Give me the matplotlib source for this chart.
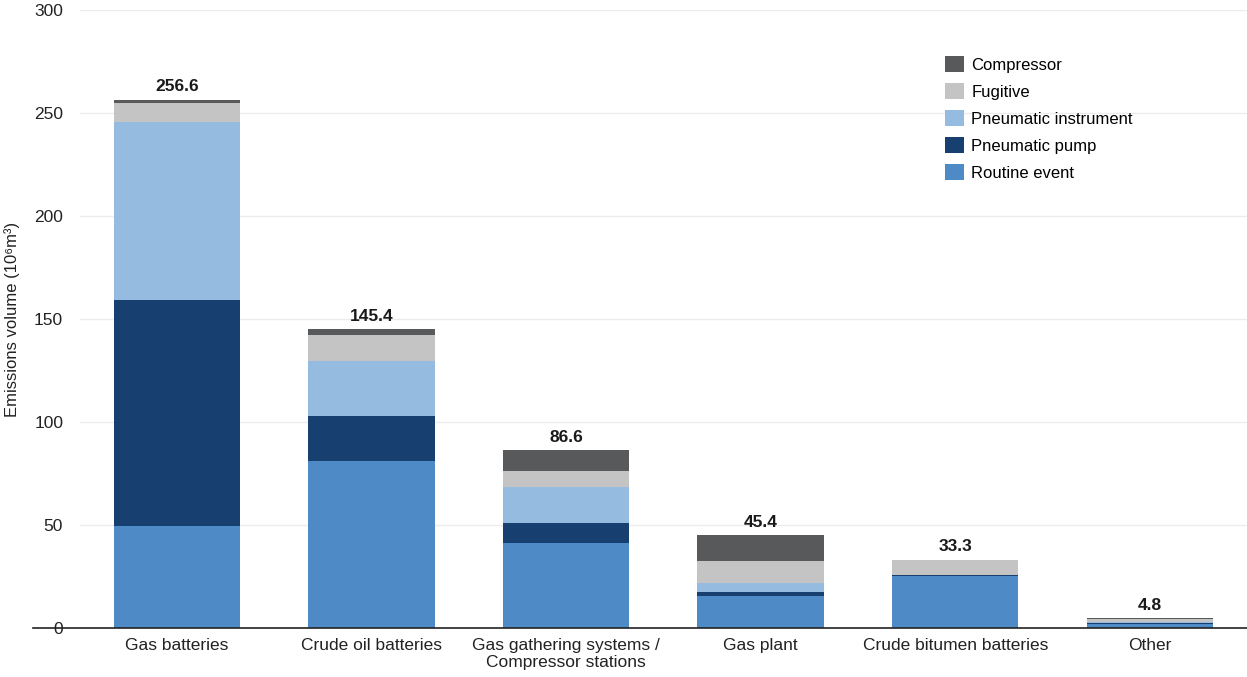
import numpy as np
import matplotlib.pyplot as plt

plt.rcParams['font.family'] = ['Liberation Sans', 'DejaVu Sans']

categories = ["Gas batteries", "Crude oil batteries", "Gas gathering systems /\nCompressor stations",
              "Gas plant", "Crude bitumen batteries", "Other"]

routine_event = [49.5, 81.0, 41.5, 15.5, 25.5, 2.3]
pneumatic_pump = [110.0, 22.0, 9.5, 2.0, 0.5, 0.4]
pneumatic_instrument = [86.0, 26.6, 17.5, 4.3, 0.0, 0.5]
fugitive = [9.5, 12.6, 8.0, 10.7, 7.0, 1.4]
compressor = [1.6, 3.2, 10.1, 12.9, 0.3, 0.2]
totals = [256.6, 145.4, 86.6, 45.4, 33.3, 4.8]

series = [
    ("Routine event", routine_event, "#4d8ac6"),
    ("Pneumatic pump", pneumatic_pump, "#173f70"),
    ("Pneumatic instrument", pneumatic_instrument, "#95bbe0"),
    ("Fugitive", fugitive, "#c4c4c4"),
    ("Compressor", compressor, "#58595b"),
]

fig = plt.figure(figsize=(12.47, 6.77), dpi=100)
ax = fig.add_axes([0.064, 0.072, 0.936, 0.913])

x = np.arange(len(categories))
bottom = np.zeros(len(categories))
handles = []
for name, vals, col in series:
    b = ax.bar(x, vals, width=0.65, bottom=bottom, color=col, label=name, zorder=2)
    handles.append(b)
    bottom += np.array(vals)

for xi, t in zip(x, totals):
    ax.text(xi, t + 2.5, f"{t:.1f}", ha="center", va="bottom",
            fontsize=12.5, fontweight="bold", color="#1a1a1a")

ax.set_xlim(-0.5, 5.5)
ax.set_ylim(0, 300)
ax.set_yticks(np.arange(0, 301, 50))
ax.grid(axis="y", color="#ececec", linewidth=1, zorder=0)
ax.set_axisbelow(True)

for s in ["top", "right", "left", "bottom"]:
    ax.spines[s].set_visible(False)
ax.axhline(0, xmin=-0.04, xmax=1, color="#222222", linewidth=1.2, clip_on=False, zorder=3)

ax.tick_params(axis="both", length=0, labelsize=12.5, colors="#222222")
ax.tick_params(axis="y", pad=12)
ax.tick_params(axis="x", pad=7)
ax.set_xticks(x)
ax.set_xticklabels(categories)
ax.set_ylabel("Emissions volume (10\u2076m\u00b3)", fontsize=12, color="#222222", labelpad=10)

leg = ax.legend(handles[::-1], [s[0] for s in series][::-1], loc="upper right",
                bbox_to_anchor=(0.915, 0.95), frameon=False, fontsize=12,
                handlelength=1.1, handleheight=1.1, handletextpad=0.45, labelspacing=0.62)

fig.savefig("out.png", dpi=100)
